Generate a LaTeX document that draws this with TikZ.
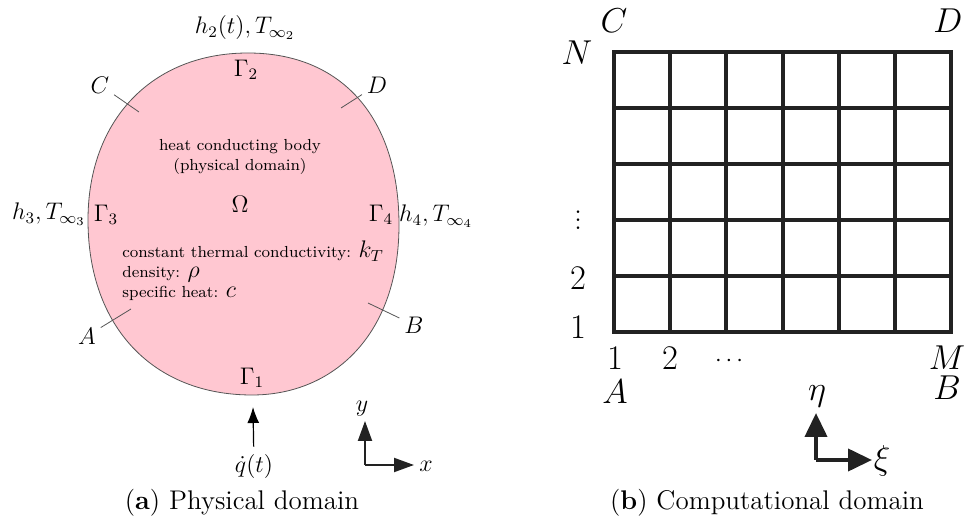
\documentclass[tikz,border=0pt]{standalone}
\usepackage{amsmath,amssymb}
\usepackage{tikz}
\usetikzlibrary{positioning,arrows.meta,calc}
\definecolor{cBody}{HTML}{FFC7D1}
\definecolor{cEdge}{HTML}{555555}
\definecolor{cGrid}{HTML}{222222}
\tikzset{
  lbl/.style={font=\fontsize{12}{14}\selectfont, inner sep=1pt},
  txt/.style={font=\fontsize{8}{10}\selectfont, inner sep=0pt, align=center},
  big/.style={font=\fontsize{16}{19}\selectfont, inner sep=1pt},
  capt/.style={font=\fontsize{13.5}{16}\selectfont, inner sep=0pt},
  tick/.style={draw=cEdge, line width=0.4pt, shorten <=1.5pt},
  gridl/.style={draw=cGrid, line width=2pt, line cap=rect},
  ar/.style={-{Latex[length=8pt,width=6pt]}, line width=0.6pt},
  axs/.style={-{Triangle[length=10pt,width=7pt]}, line width=1pt, cGrid},
  axb/.style={-{Triangle[length=12pt,width=11pt]}, line width=2pt, cGrid},
}
\newcommand{\mlg}[1]{{\fontsize{12}{14}\selectfont$#1$}}

\begin{document}
\begin{tikzpicture}[x=0.5pt, y=-0.5pt]
    \useasboundingbox (0,0) rectangle (969,523);

    % (a) physical domain
    \coordinate (bT) at (248,53);
    \coordinate (bR) at (399,225);
    \coordinate (bB) at (252,395);
    \coordinate (bL) at (88,220);
    \fill[cBody, draw=cEdge, line width=0.4pt]
      (bT) .. controls (342,53) and (399,118) .. (bR)
           .. controls (399,335) and (333,395) .. (bB)
           .. controls (154,395) and (88,328) .. (bL)
           .. controls (88,120) and (152,53) .. (bT) -- cycle;

    \node[lbl] (h2) at (245,28) {$h_2(t), T_{\infty_2}$};
    \node[lbl] (g2) at (246,70) {$\Gamma_2$};
    \node[lbl] (g3) at (106,215) {$\Gamma_3$};
    \node[lbl] (h3) at (49,214) {$h_3, T_{\infty_3}$};
    \node[lbl] (g4) at (381,215) {$\Gamma_4$};
    \node[lbl] (h4) at (436,216) {$h_4, T_{\infty_4}$};
    \node[lbl] (g1) at (252,378) {$\Gamma_1$};

    \node[txt] (body) at (240,157) {heat conducting body\\(physical domain)};
    \node[lbl] (om) at (240,204) {$\Omega$};
    \node[txt, anchor=base west] (cond) at (122,258) {constant thermal conductivity: \mlg{k_T}};
    \node[txt, anchor=base west] (dens) at (122,278) {density: \mlg{\rho}};
    \node[txt, anchor=base west] (heat) at (122,298) {specific heat: \mlg{c}};

    \node[lbl] (pC) at (100,85) {$C$};
    \node[lbl] (pD) at (377,85) {$D$};
    \node[lbl] (pA) at (87,336) {$A$};
    \node[lbl] (pB) at (414,325) {$B$};
    \coordinate (tC) at (139,112);
    \coordinate (tD) at (341,108);
    \coordinate (tA) at (131,309);
    \coordinate (tB) at (368,303);
    \draw[tick] (pC) -- (tC);
    \draw[tick] (pD) -- (tD);
    \draw[tick] (pA) -- (tA);
    \draw[tick] (pB) -- (tB);

    \node[lbl] (qd) at (254,467) {$\dot{q}(t)$};
    \coordinate (qtip) at (253,407);
    \draw[ar, shorten <=3pt] (qd) -- (qtip);

    \coordinate (o1) at (365,465);
    \coordinate (y1) at (365,421);
    \coordinate (x1) at (414,465);
    \draw[axs] (o1) -- (y1);
    \draw[axs] (o1) -- (x1);
    \node[lbl] (ly) at (362,409) {$y$};
    \node[lbl] (lx) at (426,466) {$x$};

    \node[capt] (capa) at (242,503) {(\textbf{a}) Physical domain};

    % (b) computational domain
    \foreach \i in {0,...,6}
      \draw[gridl] (614+56.17*\i,52) -- (614+56.17*\i,332);
    \foreach \j in {0,...,5}
      \draw[gridl] (614,52+56*\j) -- (951,52+56*\j);

    \node[big] (cC) at (614,21) {$C$};
    \node[big] (cD) at (948,21) {$D$};
    \node[big] (nN) at (577,53) {$N$};
    \node[big, inner sep=0pt] (nv) at (578,214) {$\vdots$};
    \node[big] (n2) at (578,278) {$2$};
    \node[big] (n1) at (578,327) {$1$};
    \node[big] (m1) at (615,358) {$1$};
    \node[big] (m2) at (670,358) {$2$};
    \node[lbl] (md) at (731,361) {$\cdots$};
    \node[big] (mM) at (947,358) {$M$};
    \node[big] (cA) at (615,392) {$A$};
    \node[big] (cB) at (947,388) {$B$};

    \coordinate (o2) at (816,460);
    \coordinate (e2) at (816,413);
    \coordinate (x2) at (872,460);
    \draw[axb] (o2) -- (e2);
    \draw[axb] (o2) -- (x2);
    \node[big] (leta) at (817,396) {$\eta$};
    \node[big] (lxi) at (882,461) {$\xi$};

    \node[capt] (capb) at (767,503) {(\textbf{b}) Computational domain};
\end{tikzpicture}
\end{document}
